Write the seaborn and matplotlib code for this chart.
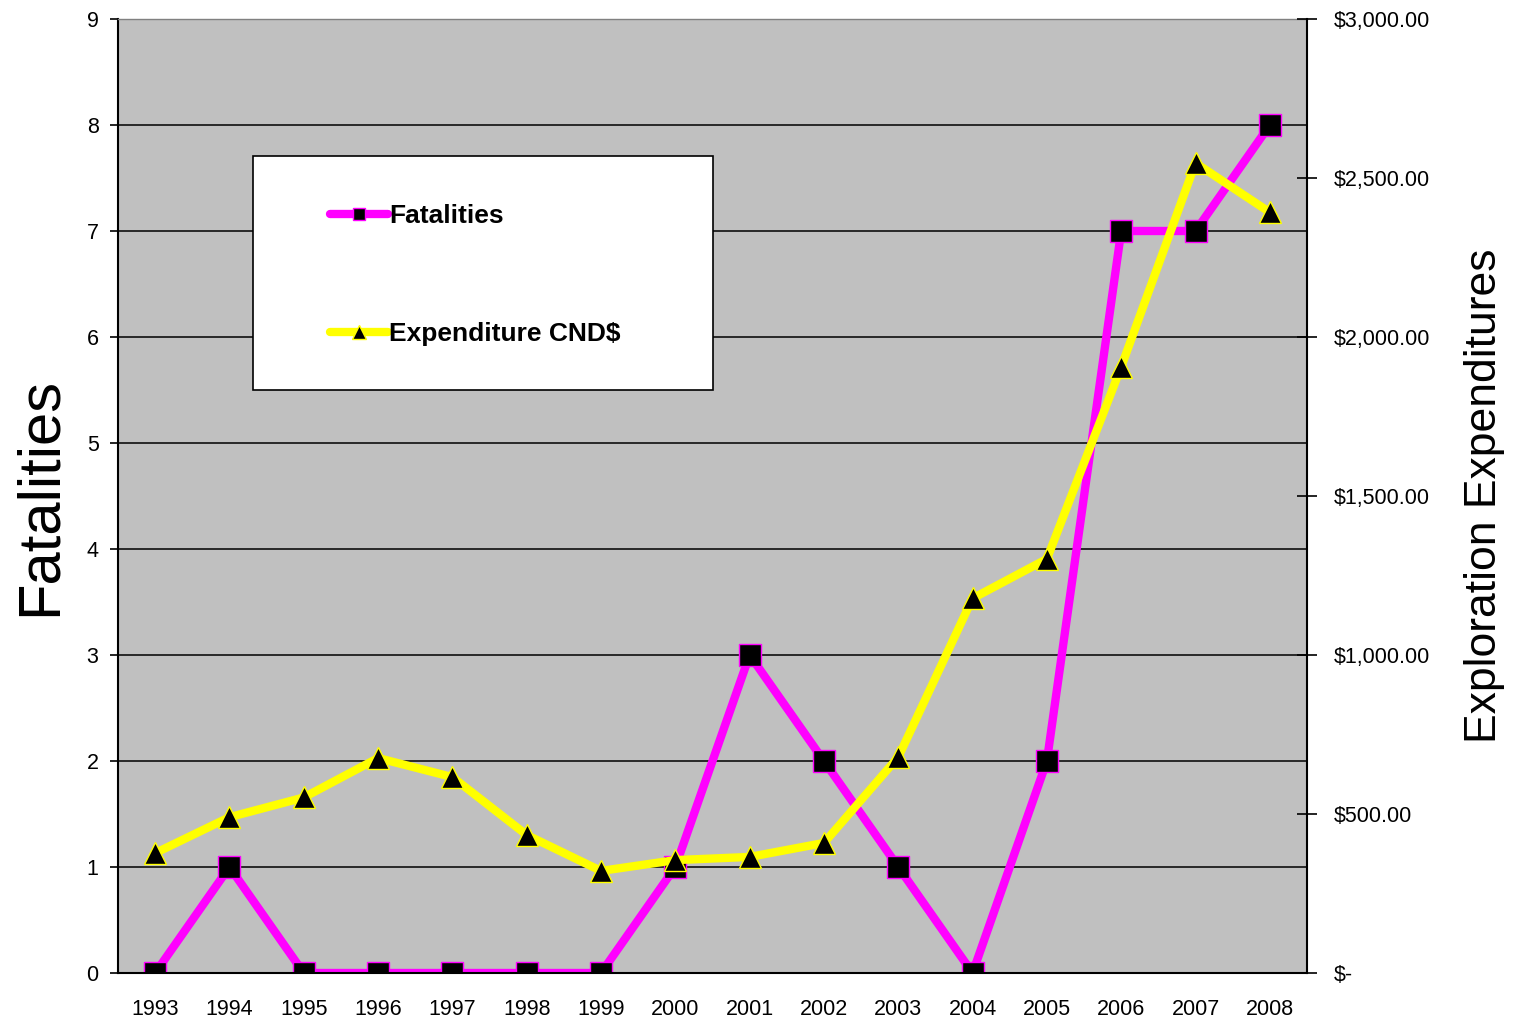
import matplotlib
matplotlib.use("Agg")
import matplotlib.pyplot as plt
import matplotlib.ticker as mticker
from matplotlib.patches import Rectangle
import numpy as np
import seaborn as sns

# data
years = [1993, 1994, 1995, 1996, 1997, 1998, 1999, 2000,
         2001, 2002, 2003, 2004, 2005, 2006, 2007, 2008]
fatalities = [0, 1, 0, 0, 0, 0, 0, 1, 3, 2, 1, 0, 2, 7, 7, 8]
expenditure = [377, 490, 552, 676, 616, 434, 321, 355,
               365, 409, 679, 1178, 1302, 1906, 2547, 2392]
left_ticks = list(range(0, 10))
right_ticks = [0, 500, 1000, 1500, 2000, 2500, 3000]

sns.set_style("white")
plt.rcParams['font.family'] = ['Liberation Sans', 'DejaVu Sans']
plt.rcParams['text.color'] = 'black'
plt.rcParams['axes.labelcolor'] = 'black'

fig = plt.figure(figsize=(15.26, 10.21), dpi=100)
ax = fig.add_axes([118 / 1526, 48 / 1021, 1189 / 1526, 954 / 1021])
ax.set_facecolor('#C0C0C0')

sns.lineplot(x=years, y=fatalities, ax=ax, color='#FF00FF', linewidth=6,
             marker='s', markersize=15.5, markerfacecolor='black',
             markeredgecolor='#FF00FF', markeredgewidth=1, legend=False)

ax.set_xlim(1992.5, 2008.5)
ax.set_ylim(0, 9)
ax.set_yticks(left_ticks)
ax.yaxis.grid(True, color='black', linewidth=1.1)
ax.xaxis.grid(False)
ax.set_xticks(years)
ax.set_xticklabels([str(y) for y in years])
ax.set_xticks([y + 0.5 for y in [years[0] - 1] + years], minor=True)
ax.tick_params(axis='x', which='major', length=0, pad=19, labelsize=15.5, colors='black')
ax.tick_params(axis='x', which='minor', length=7, width=1.2, direction='out', color='black')
ax.tick_params(axis='y', which='major', length=6, width=1.2, direction='out', pad=8,
               labelsize=15.5, colors='black', left=True)

for side in ['left', 'bottom']:
    ax.spines[side].set_color('black')
    ax.spines[side].set_linewidth(1.5)
ax.spines['top'].set_color('#808080')
ax.spines['top'].set_linewidth(1)
ax.spines['right'].set_visible(False)

ax.set_ylabel('Fatalities', fontsize=43, va='center', color='black')
ax.yaxis.set_label_coords(-0.0656, 0.5)

ax2 = ax.twinx()
ax2.set_facecolor('none')
sns.lineplot(x=years, y=expenditure, ax=ax2, color='#FFFF00', linewidth=6,
             marker='^', markersize=16, markerfacecolor='black',
             markeredgecolor='#FFFF00', markeredgewidth=1, legend=False)
ax2.set_ylim(0, 3000)
ax2.set_yticks(right_ticks)
ax2.yaxis.set_major_formatter(mticker.FuncFormatter(
    lambda v, p: '$-' if v == 0 else '${:,.2f}'.format(v)))
ax2.tick_params(axis='y', which='major', length=15, width=1.2, direction='inout',
                pad=12, labelsize=15.5, colors='black', right=True)
ax2.grid(False)
for side in ['left', 'bottom', 'top']:
    ax2.spines[side].set_visible(False)
ax2.spines['right'].set_color('black')
ax2.spines['right'].set_linewidth(1.5)
ax2.set_ylabel('Exploration Expenditures', fontsize=32, va='center', rotation=90,
               color='black')
ax2.yaxis.set_label_coords(1.1497, 0.5)

# legend box
ax2.add_patch(Rectangle((0.1135, 0.611), 0.3869, 0.2454, transform=ax2.transAxes,
                        facecolor='white', edgecolor='black', linewidth=1.2, zorder=5))
handles = [ax.get_lines()[0], ax2.get_lines()[0]]
leg = ax2.legend(handles, ['Fatalities', 'Expenditure CND$'], loc='upper left',
                 bbox_to_anchor=(0.158, 0.831), frameon=False, handlelength=2.2,
                 handletextpad=0.05, labelspacing=3.57, markerscale=0.6,
                 prop={'weight': 'bold', 'size': 19}, labelcolor='black')
leg.set_zorder(6)
for line in leg.get_lines():
    line.set_linewidth(6)
    line.set_solid_capstyle('round')

fig.savefig('out.png', dpi=100)
